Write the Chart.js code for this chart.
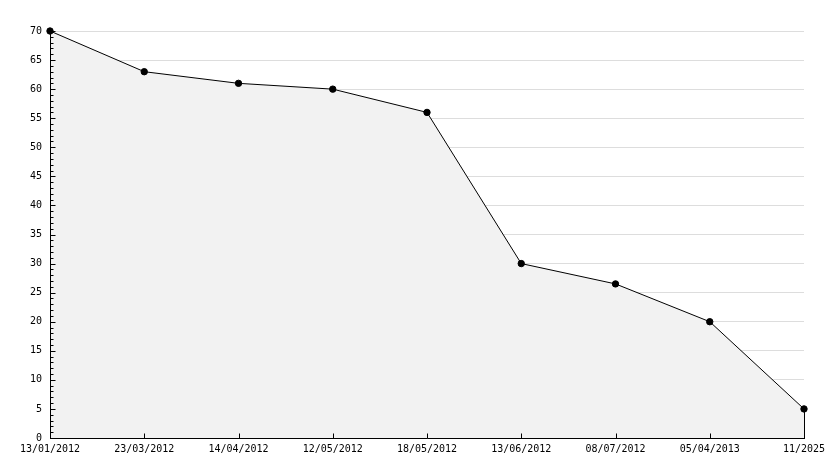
<!DOCTYPE html>
<html><head><meta charset="utf-8">
<script src="https://cdn.jsdelivr.net/npm/chart.js@4"></script>
<style>html,body{margin:0;padding:0;background:#fff}#wrap{width:834px;height:468px}</style>
</head><body><div id="wrap"><canvas id="c"></canvas></div>
<script>
const categories = ['13/01/2012','23/03/2012','14/04/2012','12/05/2012','18/05/2012','13/06/2012','08/07/2012','05/04/2013','11/2025'];
const values = [70, 63, 61, 60, 56, 30, 26.5, 20, 5];
const yMin = 0, yMax = 70, yMajorStep = 5, yMinorStep = 1;

const axesPlugin = {
  id: 'axesDeco',
  beforeDatasetsDraw(chart) {
    const ctx = chart.ctx, a = chart.chartArea;
    const xs = chart.scales.x, ys = chart.scales.y;
    ctx.save();
    ctx.strokeStyle = '#000'; ctx.lineWidth = 1;
    // right vertical edge of fill
    const lastX = Math.round(xs.getPixelForValue(categories.length - 1)) + 0.5;
    ctx.beginPath();
    ctx.moveTo(lastX, ys.getPixelForValue(values[values.length - 1]));
    ctx.lineTo(lastX, ys.getPixelForValue(0));
    ctx.stroke();
    ctx.restore();
  },
  afterDatasetsDraw(chart) {
    const ctx = chart.ctx, a = chart.chartArea;
    const xs = chart.scales.x, ys = chart.scales.y;
    ctx.save();
    ctx.strokeStyle = '#000'; ctx.lineWidth = 1;
    // y axis
    const ax = Math.round(a.left) + 0.5;
    ctx.beginPath(); ctx.moveTo(ax, a.top); ctx.lineTo(ax, a.bottom + 0.5); ctx.stroke();
    for (let v = yMin; v <= yMax; v += yMinorStep) {
      const y = Math.round(ys.getPixelForValue(v)) + 0.5;
      const len = (v % yMajorStep === 0) ? 5 : 3;
      ctx.beginPath(); ctx.moveTo(ax, y); ctx.lineTo(ax + len, y); ctx.stroke();
    }
    // x axis
    const by = Math.round(a.bottom) + 0.5;
    ctx.beginPath(); ctx.moveTo(a.left, by); ctx.lineTo(a.right + 1, by); ctx.stroke();
    for (let i = 0; i < categories.length; i++) {
      const x = Math.round(xs.getPixelForValue(i)) + 0.5;
      ctx.beginPath(); ctx.moveTo(x, by); ctx.lineTo(x, by - 5); ctx.stroke();
    }
    ctx.restore();
  }
};

new Chart(document.getElementById('c'), {
  type: 'line',
  data: {
    labels: categories,
    datasets: [{
      data: values,
      borderColor: '#000',
      borderWidth: 1,
      backgroundColor: '#f2f2f2',
      fill: 'origin',
      tension: 0,
      clip: false,
      pointStyle: 'circle',
      pointRadius: 3.2,
      pointBackgroundColor: '#000',
      pointBorderColor: '#000',
      pointBorderWidth: 1
    }]
  },
  options: {
    responsive: true,
    maintainAspectRatio: false,
    animation: false,
    events: [],
    layout: { padding: { top: 31, right: 30, left: 0, bottom: 0 } },
    plugins: { legend: { display: false }, tooltip: { enabled: false } },
    scales: {
      x: {
        type: 'category',
        offset: false,
        grid: { display: false, drawTicks: false },
        border: { display: false },
        ticks: { color: '#000', font: { family: 'DejaVu Sans Mono', size: 10 }, padding: 5, autoSkip: false, maxRotation: 0 },
        afterFit(s) { s.height = 30; }
      },
      y: {
        min: yMin, max: yMax,
        grid: { color: '#dddddd', drawTicks: false, lineWidth: 1 },
        border: { display: false },
        ticks: { stepSize: yMajorStep, color: '#000', font: { family: 'DejaVu Sans Mono', size: 10 }, padding: 8 },
        afterFit(s) { s.width = 50; }
      }
    }
  },
  plugins: [axesPlugin]
});
</script></body></html>
